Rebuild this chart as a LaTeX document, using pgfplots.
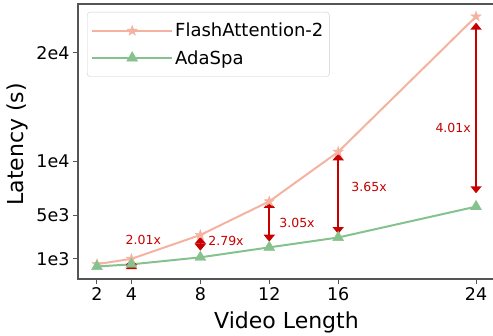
\documentclass[border=0pt]{standalone}
\usepackage{fontspec}
\setmainfont{DejaVu Sans}
\usepackage{pgfplots}
\pgfplotsset{compat=1.18}
\usetikzlibrary{arrows.meta}
\definecolor{faC}{HTML}{F4B3A1}
\definecolor{adaC}{HTML}{85C28E}
\definecolor{arC}{HTML}{C80000}
\definecolor{spC}{HTML}{555555}
\pgfdeclareplotmark{fstar}{%
  \pgfpathmoveto{\pgfpointpolar{90}{\pgfplotmarksize}}%
  \pgfpathlineto{\pgfpointpolar{126}{0.40\pgfplotmarksize}}%
  \pgfpathlineto{\pgfpointpolar{162}{\pgfplotmarksize}}%
  \pgfpathlineto{\pgfpointpolar{198}{0.40\pgfplotmarksize}}%
  \pgfpathlineto{\pgfpointpolar{234}{\pgfplotmarksize}}%
  \pgfpathlineto{\pgfpointpolar{270}{0.40\pgfplotmarksize}}%
  \pgfpathlineto{\pgfpointpolar{306}{\pgfplotmarksize}}%
  \pgfpathlineto{\pgfpointpolar{342}{0.40\pgfplotmarksize}}%
  \pgfpathlineto{\pgfpointpolar{18}{\pgfplotmarksize}}%
  \pgfpathlineto{\pgfpointpolar{54}{0.40\pgfplotmarksize}}%
  \pgfpathclose
  \pgfusepathqfillstroke}
\begin{document}
\begin{tikzpicture}
\path[use as bounding box] (0,0) rectangle (493pt,335pt);
\begin{axis}[
  at={(78pt,56pt)}, anchor=south west, scale only axis,
  width=417pt, height=275pt,
  xmin=0.9, xmax=25.1, ymin=-849, ymax=24520,
  xtick={2,4,8,12,16,24},
  ytick={1000,5000,10000,20000},
  yticklabels={1e3,5e3,1e4,2e4},
  scaled y ticks=false,
  xtick pos=lower, ytick pos=left,
  tick align=outside, major tick length=5pt,
  tick style={spC, line width=1pt},
  axis line style={spC, line width=1.2pt},
  /pgf/number format/assume math mode=true,
  ticklabel style={font=\fontsize{17.5}{20}\selectfont},
  xlabel={Video Length}, ylabel={Latency (s)},
  label style={font=\fontsize{22}{26}\selectfont},
  xlabel style={at={(axis description cs:0.5,-0.158)}, anchor=center},
  ylabel style={at={(axis description cs:-0.146,0.49)}, anchor=center},
  legend style={at={(axis description cs:0.0216,0.971)}, anchor=north west,
    draw=black!20, rounded corners=3pt, fill=white,
    font=\fontsize{18}{21}\selectfont, inner xsep=4pt, inner ysep=9pt,
    row sep=8pt, cells={anchor=west}, nodes={inner sep=2pt}},
  legend image code/.code={%
    \draw[#1, mark=none] (0pt,0pt) -- (80pt,0pt);
    \draw[#1, only marks] plot coordinates {(40pt,0pt)};},
  /tikz/every even column/.append style={column sep=10pt},
]
\addplot[faC, line width=2pt, mark=fstar, mark size=5.4pt,
  mark options={fill=faC, draw=faC, line width=0.4pt}]
  coordinates {(2,520)(4,1010)(8,3210)(12,6310)(16,10880)(24,23367)};
\addlegendentry{FlashAttention-2}
\addplot[adaC, line width=2pt, mark=triangle*, mark size=6.3pt,
  mark options={fill=adaC, draw=adaC, line width=0.4pt}]
  coordinates {(2,304)(4,503)(8,1150)(12,2070)(16,2980)(24,5827)};
\addlegendentry{AdaSpa}
\tikzset{rarr/.style={arC, line width=1.6pt, {Triangle[width=11pt,length=7pt]}-{Triangle[width=11pt,length=7pt]}}}
\draw[rarr] (axis cs:4,700) -- (axis cs:4,1060);
\draw[rarr] (axis cs:8,1760) -- (axis cs:8,3050);
\draw[rarr] (axis cs:12,2590) -- (axis cs:12,6347);
\draw[rarr] (axis cs:16,3300) -- (axis cs:16,10750);
\draw[rarr] (axis cs:24,7060) -- (axis cs:24,22800);
\tikzset{rlab/.style={text=arC, font=\fontsize{12.5}{15}\selectfont, inner sep=0pt}}
\node[rlab] at (axis cs:4.69,2750) {2.01x};
\node[rlab] at (axis cs:9.49,2685) {2.79x};
\node[rlab] at (axis cs:13.61,4320) {3.05x};
\node[rlab] at (axis cs:17.79,7640) {3.65x};
\node[rlab] at (axis cs:22.67,13080) {4.01x};
\end{axis}
\end{tikzpicture}
\end{document}
